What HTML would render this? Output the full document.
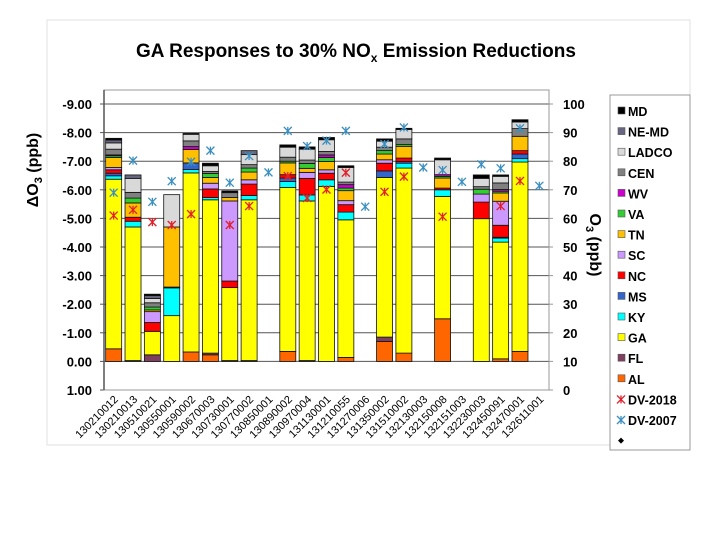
<!DOCTYPE html>
<html><head><meta charset="utf-8"><style>
body{margin:0;background:#fff;}
svg{display:block;font-family:"Liberation Sans",Arial,sans-serif;}
</style></head><body>
<svg id="c" width="720" height="540" viewBox="0 0 720 540">
<rect x="47" y="20" width="643" height="425" fill="#fff" stroke="#e0e0e0"/>
<text x="356" y="57" text-anchor="middle" font-size="19" font-weight="bold">GA Responses to 30% NO<tspan font-size="12" dy="5">x</tspan><tspan dy="-5"> Emission Reductions</tspan></text>
<g id="grid"></g><g id="bars"></g><g id="marks"></g><g id="axes"></g>
<text transform="translate(38,170) rotate(-90)" text-anchor="middle" font-size="16" font-weight="bold">ΔO<tspan font-size="11" dy="4">3</tspan><tspan dy="-4"> (ppb)</tspan></text>
<text transform="translate(590,245) rotate(90)" text-anchor="middle" font-size="16" font-weight="bold">O<tspan font-size="11" dy="4">3</tspan><tspan dy="-4"> (ppb)</tspan></text>
<g id="legend"></g>
</svg>
<script>
const sites=["130210012","130210013","130510021","130550001","130590002","130670003","130730001","130770002","130850001","130890002","130970004","131130001","131210055","131270006","131350002","131510002","132130003","132150008","132151003","132230003","132450091","132470001","132611001"];
const states=["AL","FL","GA","KY","MS","NC","SC","TN","VA","WV","CEN","LADCO","NE-MD","MD"];
const colors=["#ff6600","#7f3f5f","#ffff00","#00ffff","#3366cc","#ff0000","#cc99ff","#ffc000","#33cc33","#cc00cc","#808080","#d9d9d9","#666680","#000000"];
// ΔO3 contributions (ppb, negative) per state, one array per site order
const AL=[-.44,-.03,0,0,-.33,-.23,-.03,0,0,-.35,0,0,-.14,0,-.7,-.29,0,-1.49,0,0,-.09,-.35,0];
const FL=[0,0,-.23,0,0,-.06,0,-.03,0,0,-.03,0,0,0,-.15,0,0,0,0,0,0,0,0];
const GA=[-5.93,-4.67,-.82,-1.6,-6.26,-5.36,-2.55,-5.62,0,-5.73,-5.58,-6.12,-4.81,0,-5.58,-6.47,0,-4.28,0,-4.99,-4.08,-6.62,0];
const KY=[-.12,-.2,0,-.97,-.12,-.08,0,-.15,0,-.21,-.21,-.23,-.27,0,0,-.17,0,-.23,0,0,-.14,-.12,0];
const MS=[-.09,0,0,0,-.23,0,0,0,0,-.12,0,0,0,0,-.23,-.06,0,0,0,0,-.03,-.16,0];
const NC=[-.12,-.14,-.31,-.03,0,-.3,-.23,-.4,0,-.12,-.58,-.23,-.26,0,-.27,-.12,0,-.06,0,-.58,-.42,-.12,0];
const SC=[-.08,0,-.38,0,0,-.2,-2.8,-.15,0,0,-.21,-.12,-.14,0,-.12,0,0,0,0,-.28,-.84,0,0];
const TN=[-.35,-.5,-.06,-2.1,-.47,-.2,-.12,-.27,0,-.41,-.14,-.29,-.35,0,-.2,-.41,0,-.35,0,0,-.29,-.5,0];
const VA=[-.06,-.17,-.1,0,0,-.14,0,-.14,0,-.06,-.17,-.14,-.09,0,-.12,-.06,0,-.06,0,-.17,-.06,0,0];
const WV=[-.03,0,0,0,-.1,0,0,0,0,0,0,-.09,-.12,0,0,0,0,-.06,0,0,-.06,0,0];
const CEN=[-.2,-.2,-.15,0,-.2,-.07,-.17,-.12,0,-.14,-.12,-.12,-.09,0,-.12,-.2,0,0,0,-.09,-.23,-.27,0];
const LADCO=[-.22,-.49,-.15,-1.13,-.23,-.2,0,-.35,0,-.35,-.38,-.41,-.51,0,-.21,-.33,0,-.52,0,-.29,-.23,-.23,0];
const NEMD=[-.1,-.12,-.1,0,0,0,0,-.14,0,0,0,0,0,0,0,0,0,0,0,0,0,0,0];
const MD=[-.06,0,-.05,0,-.03,-.09,-.06,0,0,-.08,-.08,-.08,-.06,0,-.08,-.04,0,-.06,0,-.12,-.05,-.08,0];
const dv2018=[61,63,58.7,57.7,61.5,null,57.7,64.3,null,74.8,67.1,70.1,76,null,69.3,74.6,null,60.6,null,null,64.3,73.1,null];
const dv2007=[69,80.2,65.8,73,79.8,83.7,72.5,81.8,76.1,90.6,85.3,87.2,90.6,64.1,86,91.8,77.8,76.9,72.8,78.9,77.5,91.5,71.4];
const leftTicks=["-9.00","-8.00","-7.00","-6.00","-5.00","-4.00","-3.00","-2.00","-1.00","0.00","1.00"];
const rightTicks=["100","90","80","70","60","50","40","30","20","10","0"];
const series=[AL,FL,GA,KY,MS,NC,SC,TN,VA,WV,CEN,LADCO,NEMD,MD];

const NS="http://www.w3.org/2000/svg";
const X0=104,X1=549,Y0=104,Y1=390;
const yL=v=>Y0+(v-(-9))*(Y1-Y0)/10;
const yR=p=>Y1-p*(Y1-Y0)/100;
const band=(X1-X0)/sites.length;
const xc=i=>X0+band*(i+0.5);
function mk(tag,attrs,parent){const e=document.createElementNS(NS,tag);for(const k in attrs)e.setAttribute(k,attrs[k]);parent.appendChild(e);return e;}
const G=id=>document.getElementById(id);

leftTicks.forEach((t,i)=>{
 const v=parseFloat(t);const y=yL(v);
 const gl=mk("line",{x1:X0,x2:X1,y1:y,y2:y,stroke:"#555","stroke-width":1},G("grid"));
 
 
 const tx=mk("text",{x:X0-12,y:y+5,"text-anchor":"end","font-size":13,"font-weight":"bold"},G("axes"));
 tx.textContent=t;
 
 
 mk("line",{x1:X0-4,x2:X0,y1:y,y2:y,stroke:"#555"},G("axes"));
});
rightTicks.forEach(t=>{
 const y=yR(parseFloat(t));
 const tx=mk("text",{x:X1+14,y:y+5,"text-anchor":"start","font-size":13,"font-weight":"bold"},G("axes"));
 tx.textContent=t;
 
 
 mk("line",{x1:X1,x2:X1+4,y1:y,y2:y,stroke:"#999"},G("axes"));
});
const pa=mk("rect",{x:X0,y:Y0-14,width:X1-X0,height:Y1-Y0+14,fill:"none",stroke:"#999"},G("axes"));


mk("line",{x1:X0,x2:X0,y1:Y0-14,y2:Y1,stroke:"#555","stroke-width":1.5},G("axes"));

sites.forEach((s,i)=>{
 let acc=0;const w=16,x=xc(i)-w/2;
 series.forEach((arr,k)=>{
  const v=arr[i];if(!v)return;
  const ya=yL(acc),yb=yL(acc+v);acc+=v;
  const r=mk("rect",{x:x,y:yb,width:w,height:ya-yb,fill:colors[k],stroke:"#111","stroke-width":0.8},G("bars"));
  
  
 });
 const lb=mk("text",{transform:`translate(${xc(i)+5},400) rotate(-45)`,"text-anchor":"end","font-size":11},G("axes"));
 lb.textContent=s;
 
 
});
function star(x,y,c,parent,name){
 const g=mk("g",{stroke:c,"stroke-width":1.3},parent);
 
 
 mk("line",{x1:x-4,y1:y-4,x2:x+4,y2:y+4},g);mk("line",{x1:x-4,y1:y+4,x2:x+4,y2:y-4},g);mk("line",{x1:x,y1:y-4,x2:x,y2:y+4},g);
}
dv2007.forEach((p,i)=>{if(p!=null)star(xc(i),yR(p),"#3a8fc0",G("marks"),'dv2007-point');});
dv2018.forEach((p,i)=>{if(p!=null)star(xc(i),yR(p),"#e0202a",G("marks"),'dv2018-point');});

// legend
const L=G("legend");
const lb=mk("rect",{x:610,y:95,width:80,height:355,fill:"#fff",stroke:"#999"},L);


const legNames=[...states].reverse().concat(["DV-2018","DV-2007",""]);
legNames.forEach((n,j)=>{
 const y=111+j*20.6;
 if(j<14){
  const k=13-j;
  const sq=mk("rect",{x:618,y:y-4,width:7,height:7,fill:colors[k],stroke:"#555","stroke-width":0.6},L);
  
  
 } else if(j<16){ star(621,y,j==14?"#e0202a":"#3a8fc0",L,'legend-marker'); }
 else { mk("path",{d:`M621 ${y-3}L624 ${y}L621 ${y+3}L618 ${y}Z`,fill:"#000"},L); }
 const t=mk("text",{x:628,y:y+5,"font-size":12.5,"font-weight":"bold"},L);
 t.textContent=n;
 
 
});
</script>
</body></html>
